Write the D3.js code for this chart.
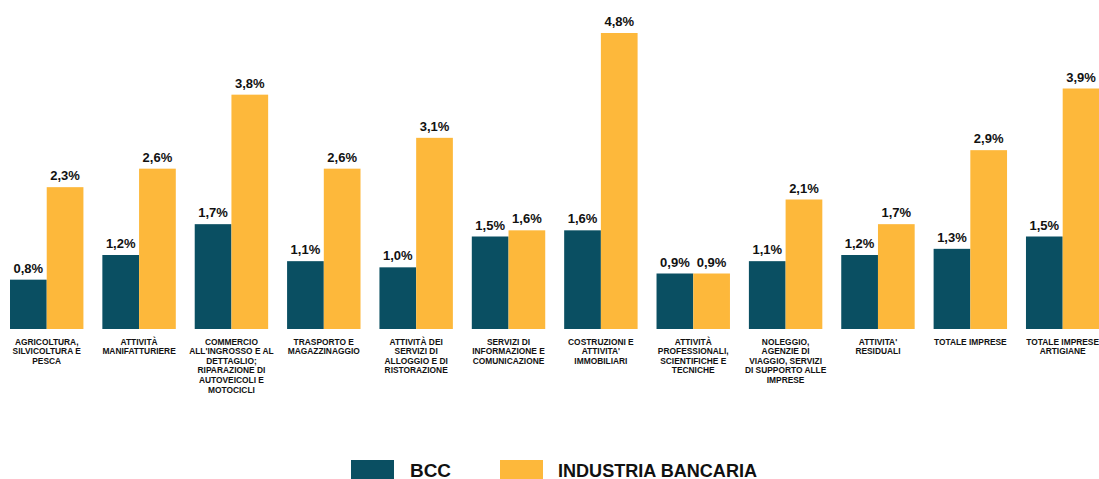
<!DOCTYPE html>
<html><head><meta charset="utf-8">
<script src="https://cdn.jsdelivr.net/npm/d3@7"></script>
<style>
html,body{margin:0;padding:0;background:#fff;}
svg{display:block;font-family:"Liberation Sans",Arial,sans-serif;}
</style></head>
<body><svg id="c" width="1099" height="479"></svg>
<script>
const categories = [
  ["AGRICOLTURA,","SILVICOLTURA E","PESCA"],
  ["ATTIVITÀ","MANIFATTURIERE"],
  ["COMMERCIO","ALL'INGROSSO E AL","DETTAGLIO;","RIPARAZIONE DI","AUTOVEICOLI E","MOTOCICLI"],
  ["TRASPORTO E","MAGAZZINAGGIO"],
  ["ATTIVITÀ DEI","SERVIZI DI","ALLOGGIO E DI","RISTORAZIONE"],
  ["SERVIZI DI","INFORMAZIONE E","COMUNICAZIONE"],
  ["COSTRUZIONI E","ATTIVITA'","IMMOBILIARI"],
  ["ATTIVITÀ","PROFESSIONALI,","SCIENTIFICHE E","TECNICHE"],
  ["NOLEGGIO,","AGENZIE DI","VIAGGIO, SERVIZI","DI SUPPORTO ALLE","IMPRESE"],
  ["ATTIVITA'","RESIDUALI"],
  ["TOTALE IMPRESE"],
  ["TOTALE IMPRESE","ARTIGIANE"]
];
const seriesNames = ["BCC","INDUSTRIA BANCARIA"];
const bcc = [0.8,1.2,1.7,1.1,1.0,1.5,1.6,0.9,1.1,1.2,1.3,1.5];
const industria = [2.3,2.6,3.8,2.6,3.1,1.6,4.8,0.9,2.1,1.7,2.9,3.9];
const colors = ["#0a4f62","#fdb83b"];

const svg = d3.select("#c");
const ids = categories.map((c,i)=>i);
const x0 = d3.scaleBand().domain(ids).range([10,1099.4]).paddingInner(0.205).paddingOuter(0);
const x1 = d3.scaleBand().domain([0,1]).range([0,x0.bandwidth()]);
const y = d3.scaleLinear().domain([0,4.8]).range([329,33]);
const series = [bcc, industria];
const fmt = v => d3.format(".1f")(v).replace(".",",") + "%";

const g = svg.selectAll("g.grp").data(ids).join("g").attr("class","grp")
  .attr("transform", i=>`translate(${x0(i)},0)`);

g.selectAll("rect").data(i=>series.map((s,k)=>({k,v:s[i]}))).join("rect")
  .attr("x", d=>x1(d.k)).attr("width", x1.bandwidth())
  .attr("y", d=>y(d.v)).attr("height", d=>y(0)-y(d.v))
  .attr("fill", d=>colors[d.k]);

g.selectAll("text.val").data(i=>series.map((s,k)=>({k,v:s[i]}))).join("text")
  .attr("class","val")
  .attr("x", d=>x1(d.k)+x1.bandwidth()/2).attr("y", d=>y(d.v)-7)
  .attr("text-anchor","middle").attr("font-size",13).attr("font-weight","bold")
  .attr("fill","#111").text(d=>fmt(d.v));

g.each(function(i){
  const t = d3.select(this).append("text").attr("text-anchor","middle")
    .attr("font-size",8.4).attr("font-weight","bold").attr("fill","#111");
  categories[i].forEach((line,j)=>{
    t.append("tspan").attr("x", x0.bandwidth()/2).attr("y", 344.5 + j*9.6).text(line);
  });
});

// legend
const leg = [{x:351,tx:410,tl:41},{x:500,tx:558,tl:199}];
leg.forEach((l,k)=>{
  svg.append("rect").attr("x",l.x).attr("y",460).attr("width",43).attr("height",19).attr("fill",colors[k]);
  svg.append("text").attr("x",l.tx).attr("y",476.5).attr("font-size",19).attr("font-weight","bold")
    .attr("fill","#111").attr("textLength",l.tl).attr("lengthAdjust","spacingAndGlyphs").text(seriesNames[k]);
});
</script></body></html>
